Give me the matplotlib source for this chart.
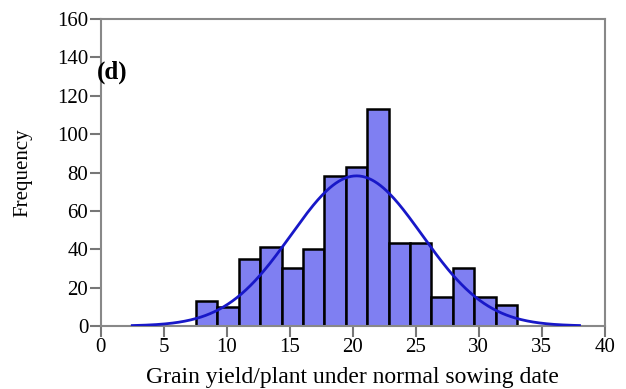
import matplotlib.pyplot as plt
import numpy as np

plt.rcParams['font.family'] = ['Liberation Serif', 'DejaVu Serif']

# histogram data
bin_left = 7.55
bin_width = 1.70
counts = [13, 10, 35, 41, 30, 40, 78, 83, 113, 43, 43, 15, 30, 15, 11]

# fitted normal curve parameters
mean_val = 20.3
sd_val = 5.2
n_total = sum(counts)

edges = bin_left + bin_width * np.arange(len(counts))

fig = plt.figure(figsize=(6.26, 3.89), dpi=100)
ax = fig.add_axes([0.161, 0.162, 0.805, 0.789])

ax.bar(edges, counts, width=bin_width, align='edge', color='#7f7ff2',
       edgecolor='black', linewidth=1.8, zorder=2)

xs = np.linspace(2.5, 38, 300)
ys = n_total * bin_width / (sd_val * np.sqrt(2 * np.pi)) * np.exp(-0.5 * ((xs - mean_val) / sd_val) ** 2)
ax.plot(xs, ys, color='#1818c8', linewidth=2, zorder=3)

ax.set_xlim(0, 40)
ax.set_ylim(0, 160)
ax.set_xticks(np.arange(0, 41, 5))
ax.set_yticks(np.arange(0, 161, 20))
ax.tick_params(axis='both', direction='out', length=8, width=1.5, color='#777777',
               labelsize=15, pad=1)
for s in ax.spines.values():
    s.set_color('#888888')
    s.set_linewidth(1.5)

ax.set_xlabel('Grain yield/plant under normal sowing date', fontsize=17, labelpad=7)
ax.set_ylabel('Frequency', fontsize=15, labelpad=18)
ax.text(-0.008, 0.79, '(d)', transform=ax.transAxes, fontsize=18,
        fontweight='bold', ha='left', va='bottom')

fig.savefig('out.png', dpi=100)
